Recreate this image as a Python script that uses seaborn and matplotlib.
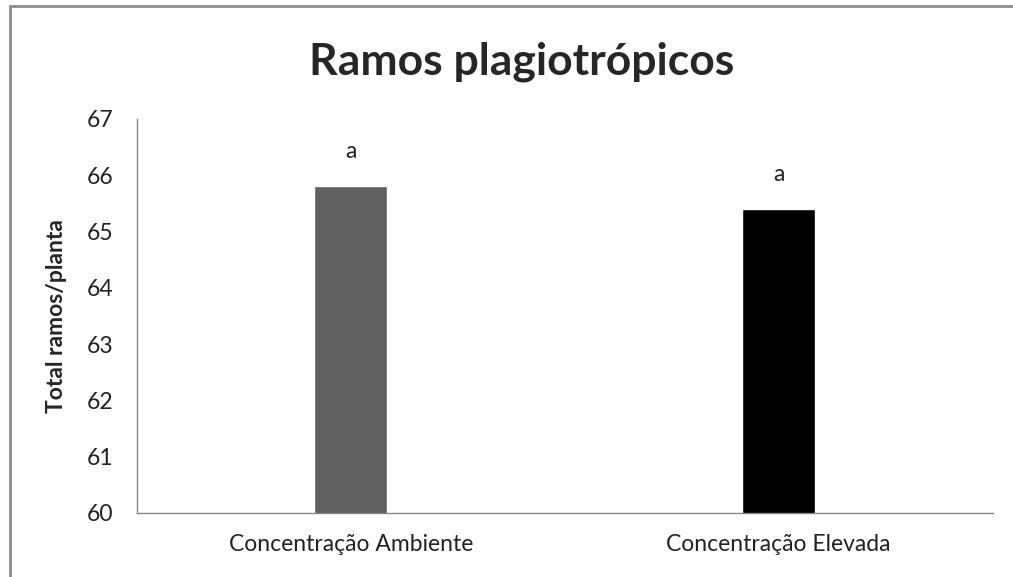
import matplotlib
matplotlib.use("Agg")
import matplotlib.pyplot as plt
import seaborn as sns
import pandas as pd

# dados
categorias = ["Concentração Ambiente", "Concentração Elevada"]
valores = [65.8, 65.4]
letras = ["a", "a"]
cores = ["#606060", "#000000"]
yticks = [60, 61, 62, 63, 64, 65, 66, 67]

df = pd.DataFrame({"cat": categorias, "valor": valores})

sns.set_style("white")
plt.rcParams["font.family"] = ["Lato", "DejaVu Sans"]

fig = plt.figure(figsize=(10.13, 5.77), dpi=100)
ax = fig.add_axes([0.135, 0.111, 0.845, 0.683])

sns.barplot(data=df, x="cat", y="valor", hue="cat", palette=cores,
            width=0.17, legend=False, ax=ax, saturation=1)

ax.set_ylim(yticks[0], yticks[-1])
ax.set_yticks(yticks)
ax.set_xlim(-0.5, 1.5)
ax.tick_params(axis="y", length=0, labelsize=16.5, colors="#222222", pad=17)
ax.tick_params(axis="x", length=0, labelsize=16.5, colors="#222222", pad=15)
ax.set_xlabel("")
ax.set_ylabel("Total ramos/planta", fontsize=16.5, fontweight="bold", labelpad=14)
for s in ["top", "right"]:
    ax.spines[s].set_visible(False)
for s in ["left", "bottom"]:
    ax.spines[s].set_color("#868686")
    ax.spines[s].set_linewidth(1)

for i, (v, l) in enumerate(zip(valores, letras)):
    ax.text(i, v + 0.62, l, ha="center", va="center", fontsize=16.5, color="#222222")

fig.text(0.515, 0.893, "Ramos plagiotrópicos", ha="center", va="center",
         fontsize=32, fontweight="bold")

# moldura do grafico
fig.add_artist(plt.Rectangle((10 / 1013, -0.05), 1.2, 1.05 - 6 / 577,
                             transform=fig.transFigure, fill=False,
                             edgecolor="#8c8c8c", linewidth=2))

fig.savefig("out.png", dpi=100)
